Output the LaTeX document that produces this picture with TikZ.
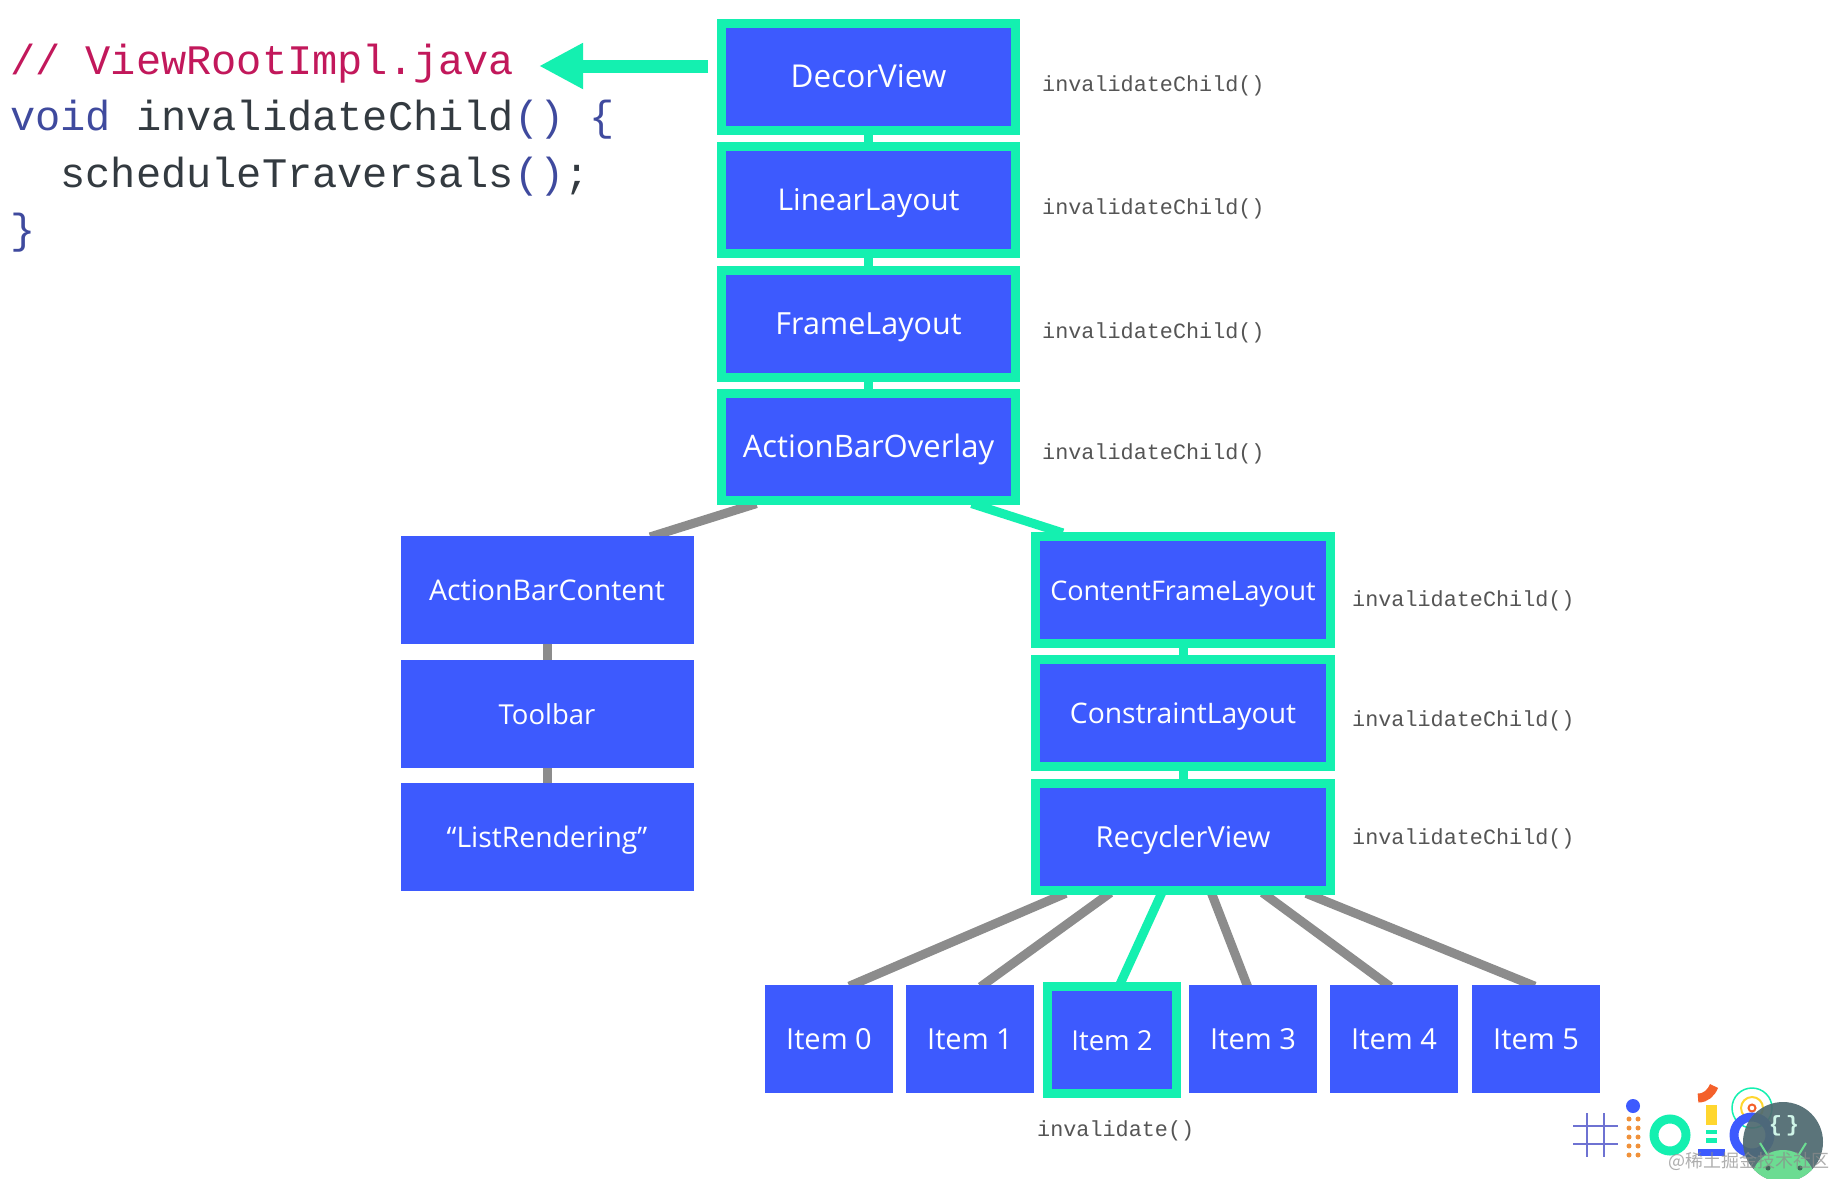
\documentclass[tikz,border=0pt]{standalone}
\usepackage{fontspec}
\setmainfont{Open Sans}
\setmonofont{Liberation Mono}
\newfontfamily\cjkwm{Noto Sans CJK SC}
\usetikzlibrary{calc,arrows.meta,backgrounds}
\definecolor{boxblue}{HTML}{3D5AFE}
\definecolor{hiteal}{HTML}{14F0B0}
\definecolor{linkgrey}{HTML}{8C8C8C}
\definecolor{cmtred}{HTML}{C2185B}
\definecolor{kwblue}{HTML}{3F4A9E}
\definecolor{codedark}{HTML}{333A40}
\definecolor{labelgrey}{HTML}{555555}
\definecolor{hashviolet}{HTML}{6E72D2}
\definecolor{logoorange}{HTML}{F0913A}
\definecolor{logored}{HTML}{F4602A}
\definecolor{logoyellow}{HTML}{FFD62E}
\definecolor{badgeslate}{HTML}{4F6A70}
\definecolor{droidgreen}{HTML}{6CDC92}
\definecolor{droiddark}{HTML}{3E6A58}
\definecolor{badgemint}{HTML}{CFF5E8}
\newcommand{\codesize}{\fontsize{42}{42}\selectfont\ttfamily}
\tikzset{
  x=1pt,y=-1pt,
  plainbox/.style={fill=boxblue,text=white,outer sep=0pt,inner sep=0pt,text height=21pt,text depth=0pt},
  hibox/.style={plainbox,draw=hiteal,line width=9pt,outer sep=4.5pt},
  txt/.style={font=\fontsize{#1}{#1}\selectfont},
  widebox/.style={minimum width=294pt,minimum height=107pt},
  rightbox/.style={minimum width=295pt,minimum height=107pt},
  leftbox/.style={minimum width=293pt,minimum height=108pt},
  itembox/.style={minimum width=128pt,minimum height=108pt,txt=29},
  hiitem/.style={minimum width=129pt,minimum height=107pt,txt=27.5},
  greylink/.style={draw=linkgrey,line width=9pt,shorten >=-3pt,shorten <=-3pt},
  teallink/.style={draw=hiteal,line width=9pt,shorten >=-3pt,shorten <=-3pt},
  codeline/.style={anchor=base west,inner sep=0pt,outer sep=0pt,font=\codesize},
  calllabel/.style={anchor=west,inner sep=0pt,text=labelgrey,font=\fontsize{21.8}{22}\selectfont\ttfamily},
}
\begin{document}
\begin{tikzpicture}
\useasboundingbox (0,0) rectangle (1836,1178);

% code
\node[codeline] (c1) at (10,74) {\textcolor{cmtred}{// ViewRootImpl.java}};
\node[codeline] (c2) at (10,130) {\textcolor{kwblue}{void} \textcolor{codedark}{invalidateChild}\textcolor{kwblue}{() \{}};
\node[codeline] (c3) at (10,187) {\textcolor{codedark}{~~scheduleTraversals}\textcolor{kwblue}{()}\textcolor{codedark}{;}};
\node[codeline] (c4) at (10,243) {\textcolor{kwblue}{\}}};

% highlighted column
\node[hibox,widebox,txt=31.5] (decor) at (868.5,76.5) {DecorView};
\node[hibox,widebox,txt=30] (linear) at (868.5,200) {LinearLayout};
\node[hibox,widebox,txt=30.5] (frame) at (868.5,323.5) {FrameLayout};
\node[hibox,widebox,txt=31] (abo) at (868.5,446.5) {ActionBarOverlay};

% left column
\node[plainbox,leftbox,txt=28.5] (abc) at (547,590) {ActionBarContent};
\node[plainbox,leftbox,txt=27.5] (toolbar) at (547,713.5) {Toolbar};
\node[plainbox,leftbox,txt=28.3] (listr) at (547,837) {“ListRendering”};

% right column
\node[hibox,rightbox,txt=27] (cfl) at (1183,590) {ContentFrameLayout};
\node[hibox,rightbox,txt=28.3] (cl) at (1183,713) {ConstraintLayout};
\node[hibox,rightbox,txt=29] (rv) at (1183,836.5) {RecyclerView};

% items
\node[plainbox,itembox] (i0) at (829,1039) {Item 0};
\node[plainbox,itembox] (i1) at (970,1039) {Item 1};
\node[hibox,hiitem] (i2) at (1112,1040) {Item 2};
\node[plainbox,itembox] (i3) at (1253,1039) {Item 3};
\node[plainbox,itembox] (i4) at (1394,1039) {Item 4};
\node[plainbox,itembox] (i5) at (1536,1039) {Item 5};

% connectors
\begin{pgfonlayer}{background}
\fill[white] (0,0) rectangle (1836,1178);
\draw[teallink] (decor.south) -- (linear.north);
\draw[teallink] (linear.south) -- (frame.north);
\draw[teallink] (frame.south) -- (abo.north);
\draw[greylink] ($(abo.south)+(-115,0)$) -- ($(abc.north)+(106,0)$);
\draw[teallink] ($(abo.south)+(106,0)$) -- ($(cfl.north)+(-123,0)$);
\draw[greylink] (abc.south) -- (toolbar.north);
\draw[greylink] (toolbar.south) -- (listr.north);
\draw[teallink] (cfl.south) -- (cl.north);
\draw[teallink] (cl.south) -- (rv.north);
\draw[greylink] ($(rv.south)+(-120,0)$) -- ($(i0.north)+(23,0)$);
\draw[greylink] ($(rv.south)+(-75,0)$) -- ($(i1.north)+(13,0)$);
\draw[teallink] ($(rv.south)+(-22,0)$) -- ($(i2.north)+(9,0)$);
\draw[greylink] ($(rv.south)+(29,0)$) -- ($(i3.north)+(-6,0)$);
\draw[greylink] ($(rv.south)+(82,0)$) -- ($(i4.north)+(-6,0)$);
\draw[greylink] ($(rv.south)+(126,0)$) -- ($(i5.north)+(-4,0)$);
\end{pgfonlayer}

% arrow
\coordinate (arrowstart) at ($(decor.west)+(-9,-10.5)$);
\coordinate (arrowend) at (539,66);
\draw[hiteal,line width=13pt,-{Triangle[length=44pt,width=43pt]}] (arrowstart) -- (arrowend);

% call labels
\node[calllabel] (l1) at (1042,85.5) {invalidateChild()};
\node[calllabel] (l2) at (1042,208.5) {invalidateChild()};
\node[calllabel] (l3) at (1042,332.5) {invalidateChild()};
\node[calllabel] (l4) at (1042,453.5) {invalidateChild()};
\node[calllabel] (l5) at (1352,601) {invalidateChild()};
\node[calllabel] (l6) at (1352,720.5) {invalidateChild()};
\node[calllabel] (l7) at (1352,838.5) {invalidateChild()};
\node[calllabel] (l8) at (1037,1130.5) {invalidate()};

% logo
\draw[hashviolet,line width=2.5pt] (1587,1113) -- (1587,1157) (1604,1113) -- (1604,1157) (1573,1126) -- (1618,1126) (1573,1144) -- (1618,1144);
\fill[boxblue] (1633,1106) circle (7);
\foreach \yy in {1119,1128,1137,1146,1155} {
  \fill[logoorange] (1629,\yy) circle (2.5);
  \fill[logoorange] (1638,\yy) circle (2.5);
}
\draw[hiteal,line width=9pt] (1670,1135) circle (16);
\draw[logored,line width=9pt] (1698,1098) .. controls (1706,1098) and (1711,1093) .. (1714,1086);
\fill[logoyellow] (1706,1105) rectangle (1717,1125);
\fill[hiteal] (1706,1130) rectangle (1717,1134);
\fill[hiteal] (1706,1138) rectangle (1717,1143);
\fill[boxblue] (1698,1149) rectangle (1725,1156);
\draw[hiteal,line width=1.5pt] (1752,1108) circle (20);
\draw[logoyellow,line width=2pt] (1752,1108) circle (11);
\draw[logored,line width=2pt] (1752,1108) circle (3.5);
\draw[boxblue,line width=9pt] (1752,1135) circle (18);
% badge
\fill[badgeslate,opacity=.93] (1783,1142) circle (40);
\begin{scope}
\clip (1783,1142) circle (40);
\fill[droidgreen] (1783,1182) ellipse (32 and 32);
\end{scope}
\draw[droidgreen,line width=2pt] (1760,1143) -- (1768,1156) (1806,1143) -- (1798,1156);
\fill[droiddark] (1768,1168) circle (2.5) (1800,1168) circle (2.5);
\node[inner sep=0pt,text=badgemint,font=\fontsize{22}{22}\selectfont\ttfamily\bfseries] (braces) at (1784,1126) {\{\,\}};
\node[anchor=east,inner sep=0pt,text=black!45,opacity=.7,font=\cjkwm\fontsize{18}{18}\selectfont] (wm) at (1830,1161) {@稀土掘金技术社区};
\end{tikzpicture}
\end{document}
